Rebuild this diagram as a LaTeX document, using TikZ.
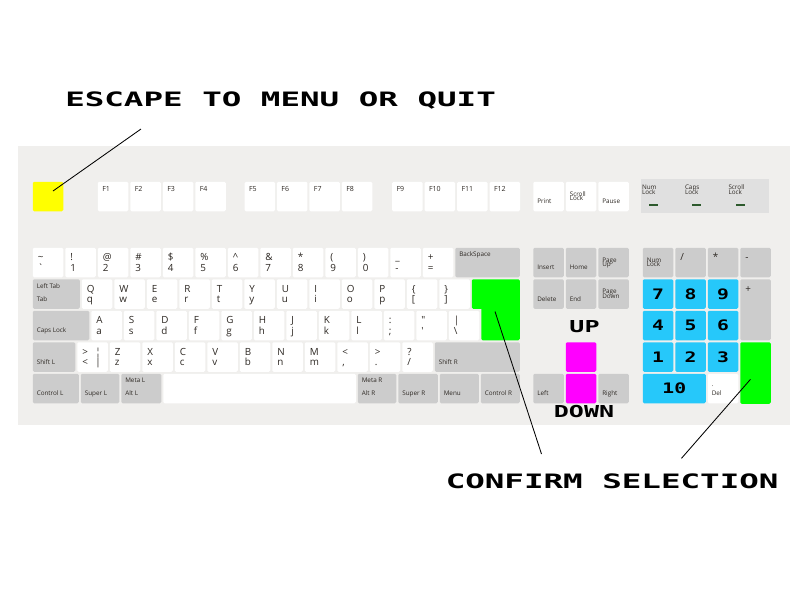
\documentclass[tikz,border=0pt]{standalone}
\usepackage{fontspec}
\setmainfont{Open Sans}
\newfontfamily\pixfont{DejaVu Sans Mono}
\usepackage{graphicx}
\usepackage{tikz}

\definecolor{panel}{RGB}{240,239,237}
\definecolor{keygray}{RGB}{204,204,204}
\definecolor{ledpanel}{RGB}{224,224,224}
\definecolor{padblue}{RGB}{38,200,250}
\definecolor{ledgreen}{RGB}{45,90,45}
\definecolor{keytext}{RGB}{45,40,35}
\definecolor{escyellow}{RGB}{255,255,0}
\definecolor{okgreen}{RGB}{0,255,0}
\definecolor{arrowpink}{RGB}{255,0,255}

\begin{document}
\begin{tikzpicture}[x=0.25mm, y=-0.25mm]
	\tikzstyle{Key}		= [rectangle, anchor=north west, inner sep=0pt, rounded corners=0.35mm, minimum width=7.625mm, minimum height=7.375mm]
	\tikzstyle{White}	= [fill=white]
	\tikzstyle{Gray}	= [fill=keygray]
	\tikzstyle{Pad}		= [fill=padblue, font=\pixfont\bfseries\fontsize{10.3}{12}\selectfont]
	\tikzstyle{Hi}		= [anchor=base west, inner sep=0pt, xshift=1.25mm, yshift=-3.25mm, text=keytext, font=\fontsize{7}{8}\selectfont]
	\tikzstyle{Lo}		= [anchor=base west, inner sep=0pt, xshift=1.25mm, yshift=-5.875mm, text=keytext, font=\fontsize{7}{8}\selectfont]
	\tikzstyle{Sm}		= [anchor=base west, inner sep=0pt, xshift=1mm, text=keytext, font=\fontsize{4.5}{5}\selectfont]
	\tikzstyle{SHi}		= [Sm, yshift=-2.3mm]
	\tikzstyle{SDot}	= [Sm, yshift=-3.25mm]
	\tikzstyle{SLo}		= [Sm, yshift=-5.5mm]
	\tikzstyle{STwoA}	= [Sm, yshift=-3.625mm]
	\tikzstyle{STwoB}	= [Sm, yshift=-4.75mm]
	\tikzstyle{FHi}		= [Sm, xshift=0.125mm, yshift=-2.5mm, font=\fontsize{5}{6}\selectfont]
	\tikzstyle{Led}		= [rectangle, fill=ledgreen, inner sep=0pt, minimum width=2.25mm, minimum height=0.5mm]
	\tikzstyle{LedLbl}	= [anchor=base west, inner sep=0pt, xshift=-1.75mm, text=keytext, font=\fontsize{4.5}{5}\selectfont]
	\tikzstyle{PixCap}	= [anchor=west, inner sep=0pt, text height=10.3pt, text depth=0pt, font=\pixfont\bfseries\fontsize{14.1}{16}\selectfont]
	\tikzstyle{PixMid}	= [inner sep=0pt, text height=8.5pt, text depth=0pt, font=\pixfont\bfseries\fontsize{11.7}{13}\selectfont]
	\tikzstyle{Pointer}	= [line width=0.6pt, black]

	\fill [white] (0,0) rectangle (800,600);
	\useasboundingbox (0,0) rectangle (800,600);

	\node (board) at (18,146) [anchor=north west, fill=panel, inner sep=0pt, minimum width=193mm, minimum height=69.75mm] {};

	% function row
	\node (esc) at (32.5,181.5) [Key][fill=escyellow] {};
	\foreach \fn in {1,...,4}
		\node (f\fn) at ({97.5+32.5*(\fn-1)},181.5) [Key][White][label={[FHi]north west:F\fn}] {};
	\foreach \fn in {5,...,8}
		\node (f\fn) at ({244.3+32.4*(\fn-5)},181.5) [Key][White][label={[FHi]north west:F\fn}] {};
	\foreach \fn in {9,...,12}
		\node (f\fn) at ({391.8+32.5*(\fn-9)},181.5) [Key][White][label={[FHi]north west:F\fn}] {};
	\node (print) at (533,181.5) [Key][White][label={[SLo]north west:Print}] {};
	\node (scroll) at (565.5,181.5) [Key][White][label={[STwoA]north west:Scroll}, label={[STwoB]north west:Lock}] {};
	\node (pause) at (598,181.5) [Key][White][label={[SLo]north west:Pause}] {};

	% lock lights
	\node (leds) at (641,179) [anchor=north west, fill=ledpanel, inner sep=0pt, minimum width=32mm, minimum height=8.5mm] {};
	\node (ledNum) at (653.5,205) [Led][label={[LedLbl, yshift=3.5mm]north west:Num}, label={[LedLbl, yshift=2.375mm]north west:Lock}] {};
	\node (ledCaps) at (696.5,205) [Led][label={[LedLbl, yshift=3.5mm]north west:Caps}, label={[LedLbl, yshift=2.375mm]north west:Lock}] {};
	\node (ledScroll) at (740,205) [Led][label={[LedLbl, yshift=3.5mm]north west:Scroll}, label={[LedLbl, yshift=2.375mm]north west:Lock}] {};

	% main block
	\foreach \up/\lo [count=\i from 0] in {\textasciitilde/\textasciigrave, !/1, @/2, \#/3, \$/4, \%/5, \textasciicircum/6, \&/7, */8, {(}/9, {)}/0, \_/-, +/=}
		\node (n\i) at ({32.5+32.5*\i},247.5) [Key][White][label={[Hi]north west:\up}, label={[Lo]north west:\lo}] {};
	\node (bksp) at (455,247.5) [Key][Gray][minimum width=16.125mm][label={[SHi]north west:BackSpace}] {};

	\node (tab) at (32.5,279) [Key][Gray][minimum width=11.75mm][label={[SHi]north west:Left Tab}, label={[SLo]north west:Tab}] {};
	\foreach \up/\lo [count=\i from 0] in {Q/q, W/w, E/e, R/r, T/t, Y/y, U/u, I/i, O/o, P/p, \{/[, \}/]}
		\node (q\i) at ({81.5+32.5*\i},279) [Key][White][label={[Hi]north west:\up}, label={[Lo]north west:\lo}] {};
	\node (enterLow) at (481,300) [Key][fill=okgreen][minimum width=9.625mm, minimum height=10mm] {};
	\node (enter) at (471.5,279) [Key][fill=okgreen][minimum width=12mm] {};

	\node (caps) at (32.5,310.5) [Key][Gray][minimum width=14.125mm][label={[SLo]north west:Caps Lock}] {};
	\foreach \up/\lo [count=\i from 0] in {A/a, S/s, D/d, F/f, G/g, H/h, J/j, K/k, L/l, :/;, \textquotedbl/\textquotesingle, \textbar/\textbackslash}
		\node (a\i) at ({91+32.5*\i},310.5) [Key][White][label={[Hi]north west:\up}, label={[Lo]north west:\lo}] {};

	\node (shiftL) at (32.5,342) [Key][Gray][minimum width=10.625mm][label={[SLo]north west:Shift L}] {};
	\node (iso) at (77,342) [Key][White][label={[Hi]north west:>}, label={[Lo]north west:<}, label={[Hi, xshift=3.25mm]north west:¦}, label={[Lo, xshift=3.25mm]north west:|}] {};
	\foreach \up/\lo [count=\i from 0] in {Z/z, X/x, C/c, V/v, B/b, N/n, M/m, </{,}, >/., ?/{/}}
		\node (z\i) at ({109.5+32.5*\i},342) [Key][White][label={[Hi]north west:\up}, label={[Lo]north west:\lo}] {};
	\node (shiftR) at (434.5,342) [Key][Gray][minimum width=21.25mm][label={[SLo]north west:Shift R}] {};

	\node (ctrlL) at (32.5,373.5) [Key][Gray][minimum width=11.5mm][label={[SLo]north west:Control L}] {};
	\node (superL) at (80.5,373.5) [Key][Gray][minimum width=9.625mm][label={[SLo]north west:Super L}] {};
	\node (metaL) at (121,373.5) [Key][Gray][minimum width=10mm][label={[SHi]north west:Meta L}, label={[SLo]north west:Alt L}] {};
	\node (space) at (163,373.5) [Key][White][minimum width=48.125mm] {};
	\node (metaR) at (357.5,373.5) [Key][Gray][minimum width=9.625mm][label={[SHi]north west:Meta R}, label={[SLo]north west:Alt R}] {};
	\node (superR) at (398,373.5) [Key][Gray][minimum width=9.875mm][label={[SLo]north west:Super R}] {};
	\node (menu) at (439.5,373.5) [Key][Gray][minimum width=9.75mm][label={[SLo]north west:Menu}] {};
	\node (ctrlR) at (480.5,373.5) [Key][Gray][minimum width=9.75mm][label={[SLo]north west:Control R}] {};

	% navigation
	\node (ins) at (533,247.5) [Key][Gray][label={[SLo]north west:Insert}] {};
	\node (home) at (565.5,247.5) [Key][Gray][label={[SLo]north west:Home}] {};
	\node (pgup) at (598,247.5) [Key][Gray][label={[STwoA]north west:Page}, label={[STwoB]north west:Up}] {};
	\node (delete) at (533,279) [Key][Gray][label={[SLo]north west:Delete}] {};
	\node (endKey) at (565.5,279) [Key][Gray][label={[SLo]north west:End}] {};
	\node (pgdn) at (598,279) [Key][Gray][label={[STwoA]north west:Page}, label={[STwoB]north west:Down}] {};

	\node (up) at (565.5,342) [Key][fill=arrowpink] {};
	\node (left) at (533,373.5) [Key][Gray][label={[SLo]north west:Left}] {};
	\node (down) at (565.5,373.5) [Key][fill=arrowpink] {};
	\node (right) at (598,373.5) [Key][Gray][label={[SLo]north west:Right}] {};
	\node (upText) at (584.5,327) [PixMid] {\scalebox{1.52}[1]{UP}};
	\node (downText) at (584,412) [PixMid] {\scalebox{1.52}[1]{DOWN}};

	% keypad
	\node (numlk) at (642.5,247.5) [Key][Gray][label={[STwoA]north west:Num}, label={[STwoB]north west:Lock}] {};
	\node (pdiv) at (675,247.5) [Key][Gray][label={[Hi]north west:/}] {};
	\node (pmul) at (707.5,247.5) [Key][Gray][label={[Hi]north west:*}] {};
	\node (psub) at (740,247.5) [Key][Gray][label={[Hi]north west:-}] {};
	\node (padd) at (740,279) [Key][Gray][minimum height=15.25mm][label={[Hi]north west:+}] {};
	\foreach \d [count=\i from 0] in {7,8,9,4,5,6,1,2,3}
		\node (p\d) at ({642.5+32.5*mod(\i,3)},{279+31.5*floor(\i/3)}) [Key][Pad] {\scalebox{1.36}[1]{\d}};
	\node (p10) at (642.5,373.5) [Key][Pad][minimum width=15.75mm] {\scalebox{1.36}[1]{10}};
	\node (pdel) at (707.5,373.5) [Key][White][label={[SDot]north west:.}, label={[SLo]north west:Del}] {};
	\node (penter) at (740,342) [Key][fill=okgreen][minimum height=15.375mm] {};

	% captions and pointers
	\node (escText) at (65,99) [PixCap] {\scalebox{1.64}[1]{ESCAPE TO MENU OR QUIT}};
	\node (okText) at (445.5,481) [PixCap] {\scalebox{1.64}[1]{CONFIRM SELECTION}};

	\coordinate (escTail) at (141,129);
	\coordinate (escTip) at (53,191);
	\coordinate (okTailA) at (541.5,454);
	\coordinate (okTipA) at (495,311.5);
	\coordinate (okTailB) at (681.5,458.3);
	\coordinate (okTipB) at (750.5,379.3);

	\draw [Pointer] (escTail) -- (escTip);
	\draw [Pointer] (okTailA) -- (okTipA);
	\draw [Pointer] (okTailB) -- (okTipB);
\end{tikzpicture}
\end{document}
